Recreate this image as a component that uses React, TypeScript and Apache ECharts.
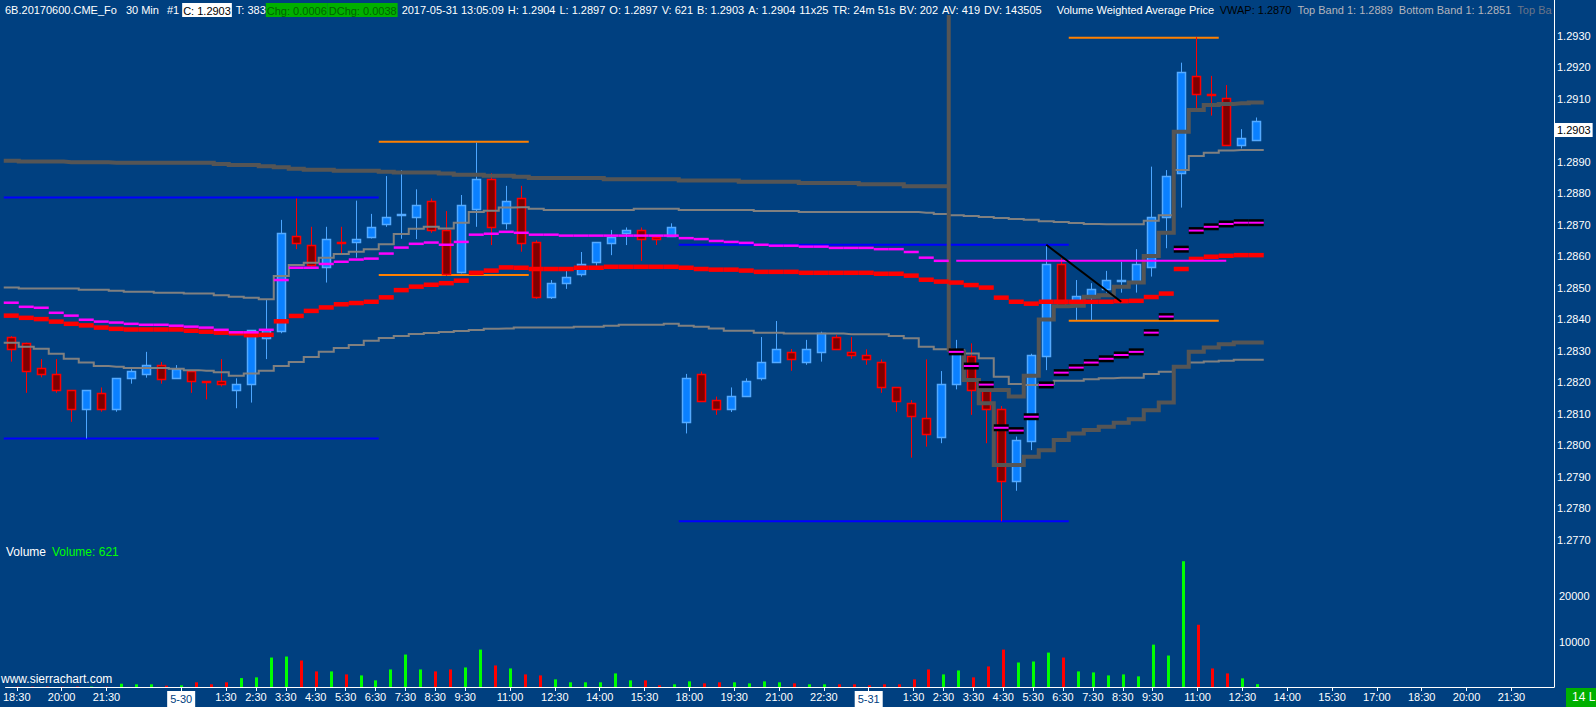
import React, { useEffect, useRef } from "react";
import * as echarts from "echarts";

const BG = "#004080";

// ---- candles (30 min bars) ----
const opens = [
  1.28342, 1.28323, 1.28244, 1.28225, 1.28174, 1.28114, 1.28164, 1.28114, 1.28212, 1.28225,
  1.28253, 1.28212, 1.28234, 1.28203, 1.28202, 1.28174, 1.28193, 1.28341, 1.28362, 1.28664,
  1.28635, 1.28564, 1.28645, 1.28644, 1.28662, 1.28703, 1.28732, 1.28723, 1.28775, 1.28683,
  1.28551, 1.28751, 1.28844, 1.28704, 1.28783, 1.28645, 1.28471, 1.28514, 1.28542, 1.28582,
  1.28643, 1.28672, 1.28682, 1.28662, 1.28665, 1.28072, 1.28226, 1.28143, 1.28114, 1.28155,
  1.28212, 1.28263, 1.28294, 1.28263, 1.28294, 1.28342, 1.28294, 1.28285, 1.28263, 1.28183,
  1.28133, 1.28085, 1.28025, 1.28193, 1.28284, 1.28174, 1.28114, 1.27885, 1.28014, 1.28284,
  1.28575, 1.28444, 1.28471, 1.28494, 1.28522, 1.28522, 1.28564, 1.28723, 1.28863, 1.29172,
  1.29115, 1.29101, 1.28953, 1.2897,
];
const highs = [
  1.28346, 1.28325, 1.28273, 1.28273, 1.28175, 1.28174, 1.28183, 1.28212, 1.28241, 1.28296,
  1.28264, 1.28254, 1.28238, 1.28203, 1.28273, 1.28212, 1.28364, 1.28461, 1.28715, 1.28783,
  1.28693, 1.28693, 1.28693, 1.28776, 1.28734, 1.28854, 1.28873, 1.28812, 1.28783, 1.28743,
  1.28794, 1.2896, 1.28863, 1.28823, 1.28823, 1.2865, 1.28524, 1.28553, 1.28613, 1.28644,
  1.28683, 1.28691, 1.28691, 1.28662, 1.28704, 1.28226, 1.28233, 1.28154, 1.28183, 1.28212,
  1.28343, 1.28394, 1.28305, 1.28334, 1.2836, 1.2835, 1.28343, 1.28304, 1.28272, 1.28183,
  1.28143, 1.28272, 1.28235, 1.28334, 1.28323, 1.2818, 1.28124, 1.28027, 1.2829, 1.28635,
  1.28593, 1.28524, 1.28514, 1.28553, 1.28582, 1.28622, 1.28884, 1.28873, 1.29214, 1.29295,
  1.29172, 1.29143, 1.29003, 1.2904,
];
const lows = [
  1.28265, 1.28166, 1.28215, 1.28166, 1.28074, 1.28021, 1.28106, 1.28106, 1.28195, 1.28214,
  1.28195, 1.28212, 1.28166, 1.28145, 1.28186, 1.28117, 1.28135, 1.28273, 1.28355, 1.28622,
  1.28566, 1.28516, 1.28607, 1.28595, 1.28656, 1.28693, 1.28655, 1.28654, 1.28674, 1.28537,
  1.28545, 1.28693, 1.28635, 1.28685, 1.28614, 1.28464, 1.28464, 1.28496, 1.28535, 1.2857,
  1.28603, 1.28635, 1.28585, 1.28635, 1.28665, 1.28037, 1.28141, 1.28096, 1.28105, 1.28155,
  1.28205, 1.28263, 1.28236, 1.28255, 1.28265, 1.28304, 1.28274, 1.28255, 1.28166, 1.28106,
  1.2796, 1.27995, 1.28006, 1.28177, 1.28096, 1.28006, 1.27758, 1.27855, 1.27984, 1.28238,
  1.2844, 1.28397, 1.28397, 1.28484, 1.28484, 1.28484, 1.28535, 1.28625, 1.28754, 1.29069,
  1.29046, 1.2895, 1.28942, 1.2897,
];
const closes = [
  1.28304, 1.28235, 1.28225, 1.28174, 1.28114, 1.28174, 1.28114, 1.28212, 1.28234, 1.28253,
  1.28211, 1.28241, 1.28203, 1.28202, 1.28193, 1.28193, 1.28364, 1.28365, 1.28672, 1.28643,
  1.28572, 1.28654, 1.28643, 1.28654, 1.28691, 1.28723, 1.28734, 1.28761, 1.28683, 1.28543,
  1.28761, 1.28844, 1.28691, 1.28775, 1.28643, 1.28471, 1.28514, 1.28533, 1.28574, 1.28644,
  1.28662, 1.28682, 1.28653, 1.28653, 1.28691, 1.28212, 1.28141, 1.28114, 1.28155, 1.28202,
  1.28263, 1.28304, 1.28272, 1.28304, 1.28355, 1.28304, 1.28285, 1.28272, 1.28183, 1.28141,
  1.28093, 1.28034, 1.28193, 1.28291, 1.28174, 1.28114, 1.27885, 1.28016, 1.28285, 1.28575,
  1.28445, 1.28472, 1.28494, 1.28523, 1.28524, 1.28575, 1.28723, 1.28854, 1.29183, 1.29114,
  1.29113, 1.28953, 1.28974, 1.2903,
];
const volumes = [
  80, 70, 90, 60, 110, 90, 70, 720, 590, 590,
  290, 370, 1030, 590, 1030, 1960, 2120, 6480, 6700, 5830,
  3430, 3430, 2770, 2550, 1460, 3860, 7140, 3860, 3430, 3860,
  4300, 8230, 4740, 4080, 2770, 2550, 1680, 1030, 1030, 1030,
  2990, 1460, 1460, 370, 590, 1240, 800, 1030, 1030, 800,
  1240, 1030, 800, 590, 590, 590, 590, 370, 590, 590,
  1680, 3860, 2770, 3640, 2120, 4520, 8230, 5390, 5610, 7570,
  6480, 3430, 3210, 2550, 2770, 2340, 9320, 6920, 27660, 13690,
  4080, 2990, 1900, 621,
];

// ---- study lines ----
const redLine = [
  1.28411, 1.28404, 1.284, 1.28392, 1.28385, 1.2838, 1.28373, 1.28369, 1.28367, 1.28367,
  1.28367, 1.28367, 1.28363, 1.2836, 1.28357, 1.28355, 1.28349, 1.2835, 1.28393, 1.2841,
  1.28426, 1.28437, 1.28447, 1.28451, 1.28455, 1.28469, 1.28492, 1.28503, 1.28509, 1.28514,
  1.28522, 1.28547, 1.28554, 1.28564, 1.28563, 1.28559, 1.28559, 1.28559, 1.28563, 1.28563,
  1.28566, 1.28566, 1.28566, 1.28566, 1.28566, 1.28563, 1.28559, 1.28557, 1.28557, 1.28554,
  1.2855, 1.2855, 1.2855, 1.28547, 1.28547, 1.28547, 1.28547, 1.28547, 1.28544, 1.28544,
  1.28538, 1.28525, 1.28519, 1.28516, 1.28508, 1.285, 1.28468, 1.28455, 1.28449, 1.28455,
  1.28455, 1.28455, 1.28455, 1.28455, 1.28457, 1.28458, 1.2847, 1.28481, 1.28559, 1.28591,
  1.28598, 1.28601, 1.28603, 1.28603,
];
const magentaLine = [
  1.28452, 1.28439, 1.28436, 1.2842, 1.28411, 1.28398, 1.28392, 1.28389, 1.28385, 1.28382,
  1.28382, 1.28379, 1.28376, 1.28373, 1.28366, 1.28358, 1.28358, 1.28366, 1.28524, 1.28563,
  1.28563, 1.28575, 1.28582, 1.28589, 1.28592, 1.28608, 1.28627, 1.28639, 1.28643, 1.28636,
  1.28645, 1.28668, 1.28671, 1.28677, 1.28674, 1.28668, 1.28668, 1.28665, 1.28665, 1.28665,
  1.28665, 1.28665, 1.28665, 1.28665, 1.28665, 1.28657, 1.28654, 1.28648, 1.28645, 1.28642,
  1.28636, 1.28633, 1.28633, 1.2863, 1.2863, 1.28626, 1.28626, 1.28626, 1.28622, 1.28622,
  1.28613, 1.28595, 1.28585,
];
const priorTopBand = [
  1.28903, 1.289, 1.289, 1.289, 1.28898, 1.28898, 1.28898, 1.28896, 1.28896, 1.28896,
  1.28896, 1.28896, 1.28896, 1.28896, 1.28892, 1.28889, 1.28889, 1.28885, 1.28882, 1.28877,
  1.28874, 1.28874, 1.28871, 1.28871, 1.28871, 1.28868, 1.28865, 1.28865, 1.28865, 1.28862,
  1.28858, 1.28858, 1.28855, 1.28855, 1.28852, 1.28848, 1.28848, 1.28848, 1.28848, 1.28848,
  1.28844, 1.28844, 1.28844, 1.28844, 1.28844, 1.2884, 1.2884, 1.2884, 1.2884, 1.28836,
  1.28836, 1.28836, 1.28836, 1.28832, 1.28832, 1.28832, 1.28832, 1.28828, 1.28828, 1.28828,
  1.28822, 1.28822, 1.28822,
];
const upperBand = [
  1.285, 1.28497, 1.28497, 1.28497, 1.28497, 1.28493, 1.28493, 1.2849, 1.28487, 1.28487,
  1.28484, 1.28484, 1.28481, 1.28481, 1.28476, 1.28471, 1.28468, 1.28463, 1.28537, 1.28572,
  1.28579, 1.28595, 1.28607, 1.28614, 1.28622, 1.28638, 1.2867, 1.28687, 1.28693, 1.28688,
  1.28706, 1.2874, 1.28744, 1.28754, 1.28755, 1.2875, 1.28746, 1.28746, 1.28746, 1.28746,
  1.28746, 1.28746, 1.2875, 1.2875, 1.2875, 1.28746, 1.28746, 1.28746, 1.28746, 1.28746,
  1.28743, 1.28743, 1.28743, 1.2874, 1.2874, 1.2874, 1.2874, 1.2874, 1.2874, 1.2874,
  1.2874, 1.28738, 1.28734, 1.2873, 1.28727, 1.28724, 1.28721, 1.28718, 1.28715, 1.28711,
  1.28708, 1.28705, 1.28702, 1.28701, 1.28701, 1.28701, 1.28712, 1.2873, 1.28873, 1.28918,
  1.28928, 1.28935, 1.28937, 1.28937,
];
const lowerBand = [
  1.28325, 1.28312, 1.28306, 1.2829, 1.28274, 1.28262, 1.28251, 1.28249, 1.28245, 1.28245,
  1.28245, 1.28242, 1.28238, 1.28236, 1.28231, 1.2822, 1.28227, 1.28236, 1.28251, 1.28264,
  1.2828, 1.28296, 1.28308, 1.28318, 1.28331, 1.2834, 1.28346, 1.28353, 1.28356, 1.28359,
  1.28362, 1.28365, 1.28369, 1.2837, 1.28373, 1.28373, 1.28373, 1.28373, 1.28376, 1.28376,
  1.28379, 1.28382, 1.28382, 1.28382, 1.28385, 1.28379, 1.28376, 1.2837, 1.28363, 1.28363,
  1.28357, 1.28357, 1.28354, 1.28354, 1.28354, 1.28354, 1.28352, 1.28352, 1.28352, 1.28346,
  1.28339, 1.28312, 1.28304, 1.28302, 1.28291, 1.28276, 1.28217, 1.28194, 1.28191, 1.28194,
  1.28204, 1.28204, 1.28209, 1.28212, 1.28214, 1.28214, 1.28226, 1.28233, 1.28249, 1.28262,
  1.28265, 1.28268, 1.28271, 1.28271,
];
const SESSION_BAR = 63;
const sessionUpper = [
  1.28296, 1.28207, 1.28175, 1.28175, 1.28154, 1.2822, 1.28399, 1.28441, 1.28442, 1.28471,
  1.28476, 1.28503, 1.28516, 1.286, 1.28674, 1.28995, 1.29064, 1.2908, 1.29083, 1.29085, 1.29088,
];
const sessionLower = [
  1.28296, 1.28207, 1.28133, 1.27937, 1.27937, 1.27963, 1.27984, 1.28016, 1.28037, 1.28048,
  1.28058, 1.28071, 1.28082, 1.28111, 1.28135, 1.28249, 1.28296, 1.2831, 1.2832, 1.28326, 1.28326,
];
const sessionMarkers = [
  1.28296, 1.28251, 1.28192, 1.28055, 1.28046, 1.2809, 1.28191, 1.2823, 1.28246, 1.28262,
  1.28274, 1.28286, 1.28296, 1.28357, 1.28408, 1.28622, 1.28681, 1.28693, 1.28702, 1.28706, 1.28706,
];
const sessionLineTop = 1.29365;

// level lines: [first bar, last bar, price]
const blueLevels = [
  [0, 24, 1.28786],
  [0, 24, 1.28021],
  [45, 70, 1.28636],
  [45, 70, 1.27758],
];
const orangeLevels = [
  [25, 34, 1.28963],
  [25, 34, 1.2854],
  [71, 80, 1.29293],
  [71, 80, 1.28395],
];
const magentaLevel = [63, 81, 1.28585];
const trendLine = [
  [69, 1.28636],
  [74, 1.28455],
];

// ---- axis labels ----
const timeLabelIndex = [
  0, 3, 6, 11, 14, 16, 18, 20, 22, 24, 26, 28, 30, 33, 36, 39, 42, 45, 48, 51,
  54, 57, 60, 62, 64, 66, 68, 70, 72, 74, 76, 79, 82, 85, 88, 91, 94, 97, 100,
];
const timeLabelText = [
  "18:30", "20:00", "21:30", "5-30", "1:30", "2:30", "3:30", "4:30", "5:30", "6:30",
  "7:30", "8:30", "9:30", "11:00", "12:30", "14:00", "15:30", "18:00", "19:30", "21:00",
  "22:30", "5-31", "1:30", "2:30", "3:30", "4:30", "5:30", "6:30", "7:30", "8:30",
  "9:30", "11:00", "12:30", "14:00", "15:30", "17:00", "18:30", "20:00", "21:30",
];
const PRICE_LABEL_MIN = 1.277;
const PRICE_LABEL_MAX = 1.293;

const X_MIN = -0.75;
const X_MAX = 102.85;
const FONT = '"Liberation Sans", Arial, sans-serif';

function stepLine(start: number, vals: number[], color: string, width: number, z: number) {
  const pts: number[][] = vals.map((v, k) => [start + k, v]);
  pts.unshift([start - 0.5, vals[0]]);
  pts.push([start + vals.length - 0.5, vals[vals.length - 1]]);
  return {
    type: "line",
    xAxisIndex: 0,
    yAxisIndex: 0,
    data: pts,
    step: "middle",
    symbol: "none",
    silent: true,
    z,
    lineStyle: { color, width, cap: "butt", join: "miter" },
  };
}

function dashSeries(start: number, vals: number[], h: number, color: string, z: number) {
  return {
    type: "custom",
    coordinateSystem: "cartesian2d",
    xAxisIndex: 0,
    yAxisIndex: 0,
    silent: true,
    z,
    data: vals.map((v, k) => [start + k, v]),
    encode: { x: 0, y: 1 },
    renderItem: (params: any, api: any) => {
      const a = api.coord([api.value(0) - 0.5, api.value(1)]);
      const b = api.coord([api.value(0) + 0.5, api.value(1)]);
      return {
        type: "rect",
        shape: { x: a[0], y: a[1] - h / 2, width: b[0] - a[0], height: h },
        style: { fill: color },
      };
    },
  };
}

function levelSeries(seg: number[], color: string, width: number, z: number, pad = 0.5) {
  return {
    type: "line",
    xAxisIndex: 0,
    yAxisIndex: 0,
    data: [
      [seg[0] - pad, seg[2]],
      [seg[1] + pad, seg[2]],
    ],
    symbol: "none",
    silent: true,
    z,
    lineStyle: { color, width, cap: "butt" },
  };
}

function buildOption() {
  const candleData = opens.map((o, i) => [i, o, closes[i], lows[i], highs[i]]);
  const volData = volumes.map((v, i) => [i, v, closes[i] >= opens[i] ? 1 : 0]);
  const lastClose = closes[closes.length - 1];

  const series: any[] = [];
  blueLevels.forEach((s) => series.push(levelSeries(s, "#0000ff", 2, 1)));
  orangeLevels.forEach((s) => series.push(levelSeries(s, "#ff8000", 2, 1)));

  series.push({
    type: "custom",
    coordinateSystem: "cartesian2d",
    xAxisIndex: 0,
    yAxisIndex: 0,
    silent: true,
    z: 2,
    data: candleData,
    encode: { x: 0, y: [1, 2, 3, 4] },
    renderItem: (params: any, api: any) => {
      const i = api.value(0);
      const o = api.value(1);
      const c = api.value(2);
      const up = c >= o;
      const pO = api.coord([i, o]);
      const pC = api.coord([i, c]);
      const pL = api.coord([i, api.value(3)]);
      const pH = api.coord([i, api.value(4)]);
      const cx = Math.round(pO[0]) + 0.5;
      const top = Math.round(Math.min(pO[1], pC[1])) + 0.5;
      const bot = Math.round(Math.max(pO[1], pC[1])) + 0.5;
      return {
        type: "group",
        children: [
          {
            type: "line",
            shape: { x1: cx, y1: pH[1], x2: cx, y2: pL[1] },
            style: { stroke: up ? "#4da6ff" : "#ff0000", lineWidth: 1 },
          },
          {
            type: "rect",
            shape: { x: cx - 4, y: top, width: 8, height: Math.max(bot - top, 1) },
            style: {
              fill: up ? "#0a80ff" : "#800000",
              stroke: up ? "#55aaff" : "#ff0000",
              lineWidth: 1.5,
            },
          },
        ],
      };
    },
  });

  const upperSeries: any = stepLine(0, upperBand, "#808080", 2, 3);
  upperSeries.markLine = {
    silent: true,
    symbol: "none",
    animation: false,
    lineStyle: { color: "rgba(0,0,0,0)", width: 1, type: "solid" },
    label: {
      show: true,
      position: "end",
      distance: 1,
      formatter: lastClose.toFixed(4),
      backgroundColor: "#ffffff",
      color: "#000000",
      opacity: 1,
      fontSize: 11,
      fontFamily: FONT,
      padding: [2, 2, 1, 2],
    },
    data: [{ yAxis: lastClose }],
  };
  series.push(upperSeries);
  series.push(stepLine(0, lowerBand, "#808080", 2, 3));
  series.push(stepLine(0, priorTopBand, "#555555", 4, 4));
  series.push(stepLine(SESSION_BAR, sessionUpper, "#555555", 4, 4));
  series.push(stepLine(SESSION_BAR, sessionLower, "#555555", 4, 4));
  series.push({
    type: "line",
    xAxisIndex: 0,
    yAxisIndex: 0,
    data: [
      [SESSION_BAR - 0.5, sessionLineTop],
      [SESSION_BAR - 0.5, sessionUpper[0]],
    ],
    symbol: "none",
    silent: true,
    z: 4,
    lineStyle: { color: "#555555", width: 4, cap: "butt" },
  });
  series.push(dashSeries(0, redLine, 4.5, "#ff0000", 5));
  series.push(dashSeries(0, magentaLine, 2.5, "#ff00ff", 6));
  series.push(levelSeries(magentaLevel, "#ff00ff", 2, 6, 0));
  series.push({
    type: "custom",
    coordinateSystem: "cartesian2d",
    xAxisIndex: 0,
    yAxisIndex: 0,
    silent: true,
    z: 7,
    data: sessionMarkers.map((v, k) => [SESSION_BAR + k, v]),
    encode: { x: 0, y: 1 },
    renderItem: (params: any, api: any) => {
      const a = api.coord([api.value(0) - 0.5, api.value(1)]);
      const b = api.coord([api.value(0) + 0.5, api.value(1)]);
      const w = b[0] - a[0];
      return {
        type: "group",
        children: [
          { type: "rect", shape: { x: a[0], y: a[1] - 3.5, width: w, height: 7 }, style: { fill: "#000000" } },
          { type: "rect", shape: { x: a[0], y: a[1] - 1, width: w, height: 2 }, style: { fill: "#ff00ff" } },
        ],
      };
    },
  });
  series.push({
    type: "line",
    xAxisIndex: 0,
    yAxisIndex: 0,
    data: trendLine,
    symbol: "none",
    silent: true,
    z: 8,
    lineStyle: { color: "#000000", width: 2 },
  });

  series.push({
    type: "custom",
    coordinateSystem: "cartesian2d",
    xAxisIndex: 1,
    yAxisIndex: 1,
    silent: true,
    z: 2,
    data: volData,
    encode: { x: 0, y: 1 },
    renderItem: (params: any, api: any) => {
      const i = api.value(0);
      const base = api.coord([i, 0]);
      const top = api.coord([i, api.value(1)]);
      return {
        type: "rect",
        shape: { x: Math.round(base[0]) - 1, y: top[1], width: 3, height: base[1] - top[1] },
        style: { fill: api.value(2) ? "#00ff00" : "#ff0000" },
      };
    },
  });

  const headerText = [
    "{w|6B.20170600.CME_Fo}",
    "{sp1|30 Min}",
    "{sp3|#1}",
    "{c|C: 1.2903}",
    "{sp|T: 383}",
    "{g|Chg: 0.0006}",
    "{g2|DChg: 0.0038}",
    "{sp|2017-05-31 13:05:09}",
    "{sp|H: 1.2904}",
    "{sp|L: 1.2897}",
    "{sp|O: 1.2897}",
    "{sp|V: 621}",
    "{sp|B: 1.2903}",
    "{sp|A: 1.2904}",
    "{sp|11x25}",
    "{sp|TR: 24m 51s}",
    "{sp|BV: 202}",
    "{sp|AV: 419}",
    "{sp|DV: 143505}",
    "{sp2|Volume Weighted Average Price}",
    "{k|VWAP: 1.2870}",
    "{s|Top Band 1: 1.2889}",
    "{s|Bottom Band 1: 1.2851}",
    "{d|Top Ba}",
  ].join("");

  const hf = { fontSize: 11, fontFamily: FONT };
  return {
    animation: false,
    backgroundColor: BG,
    grid: [
      { left: 0, right: 42, top: 0, height: (1.29413 - 1.276) * 31500 },
      { left: 0, right: 42, top: 550.6, height: 137.4 },
    ],
    xAxis: [
      { type: "value", gridIndex: 0, min: X_MIN, max: X_MAX, show: false },
      {
        type: "value",
        gridIndex: 1,
        min: X_MIN,
        max: X_MAX,
        splitLine: { show: false },
        axisLine: { show: true, onZero: false, lineStyle: { color: "#ffffff", width: 1 } },
        axisTick: { show: true, customValues: timeLabelIndex, length: 4, lineStyle: { color: "#ffffff" } },
        axisLabel: {
          customValues: timeLabelIndex,
          color: "#ffffff",
          fontSize: 11,
          fontFamily: FONT,
          margin: 4,
          formatter: (v: number) => {
            const k = timeLabelIndex.findIndex((t) => Math.abs(t - v) < 0.01);
            if (k < 0) return "";
            const t = timeLabelText[k];
            return t.indexOf("-") > 0 ? "{d|" + t + "}" : t;
          },
          rich: {
            d: { color: BG, backgroundColor: "#ffffff", padding: [2, 3, 3, 3], fontSize: 11, fontFamily: FONT },
          },
        },
      },
    ],
    yAxis: [
      {
        type: "value",
        gridIndex: 0,
        position: "right",
        min: 1.276,
        max: 1.29413,
        interval: 0.001,
        splitLine: { show: false },
        axisTick: { show: false },
        axisLine: { show: true, onZero: false, lineStyle: { color: "#ffffff", width: 1 } },
        axisLabel: {
          color: "#ffffff",
          fontSize: 11,
          fontFamily: FONT,
          margin: 3,
          formatter: (v: number) =>
            v >= PRICE_LABEL_MIN - 0.00005 && v <= PRICE_LABEL_MAX + 0.00005 ? v.toFixed(4) : "",
        },
      },
      {
        type: "value",
        gridIndex: 1,
        position: "right",
        min: 0,
        max: 30000,
        interval: 10000,
        splitLine: { show: false },
        axisTick: { show: false },
        axisLine: { show: true, onZero: false, lineStyle: { color: "#ffffff", width: 1 } },
        axisLabel: {
          color: "#ffffff",
          fontSize: 11,
          fontFamily: FONT,
          margin: 5,
          formatter: (v: number) => (v > 0 && v < 30000 ? String(v) : ""),
        },
      },
    ],
    graphic: [
      {
        type: "text",
        left: 5,
        top: 3,
        silent: true,
        style: {
          text: headerText,
          fontSize: 11,
          fontFamily: FONT,
          fill: "#ffffff",
          rich: {
            w: { ...hf, fill: "#ffffff" },
            sp1: { ...hf, fill: "#ffffff", padding: [0, 0, 0, 9] },
            sp3: { ...hf, fill: "#ffffff", padding: [0, 3, 0, 8] },
            sp: { ...hf, fill: "#ffffff", padding: [0, 0, 0, 4] },
            sp2: { ...hf, fill: "#ffffff", padding: [0, 5, 0, 15] },
            c: { ...hf, fill: "#000000", backgroundColor: "#ffffff", padding: [2, 1, 1, 1] },
            g: { ...hf, fill: "#006400", backgroundColor: "#00b000", padding: [2, 1, 1, 1] },
            g2: { ...hf, fill: "#006400", backgroundColor: "#00b000", padding: [2, 1, 1, 1] },
            k: { ...hf, fill: "#000000", padding: [0, 6, 0, 0] },
            s: { ...hf, fill: "#b4b4bc", padding: [0, 6, 0, 0] },
            d: { ...hf, fill: "#6a7488" },
          },
        },
      },
      {
        type: "text",
        left: 6,
        top: 546,
        silent: true,
        style: {
          text: "{a|Volume}{b|Volume: 621}",
          fill: "#ffffff",
          rich: {
            a: { fontSize: 12, fontFamily: FONT, fill: "#ffffff" },
            b: { fontSize: 12, fontFamily: FONT, fill: "#00ff00", padding: [0, 0, 0, 6] },
          },
        },
      },
      {
        type: "text",
        left: 1,
        top: 673,
        silent: true,
        style: { text: "www.sierrachart.com", fontSize: 12, fontFamily: FONT, fill: "#ffffff" },
      },
      {
        type: "rect",
        left: 1566,
        top: 688,
        silent: true,
        shape: { width: 30, height: 19 },
        style: { fill: "#00b000" },
      },
      {
        type: "text",
        left: 1572,
        top: 691,
        silent: true,
        style: { text: "14 L", fontSize: 12, fontFamily: FONT, fill: "#ffffff" },
      },
    ],
    series,
  };
}

export default function App() {
  const ref = useRef<HTMLDivElement>(null);
  useEffect(() => {
    if (!ref.current) return;
    const chart = echarts.init(ref.current, undefined, { renderer: "svg" });
    chart.setOption(buildOption() as any);
    return () => chart.dispose();
  }, []);
  return (
    <div
      ref={ref}
      style={{ position: "fixed", left: 0, top: 0, width: 1596, height: 707, background: BG }}
    />
  );
}
